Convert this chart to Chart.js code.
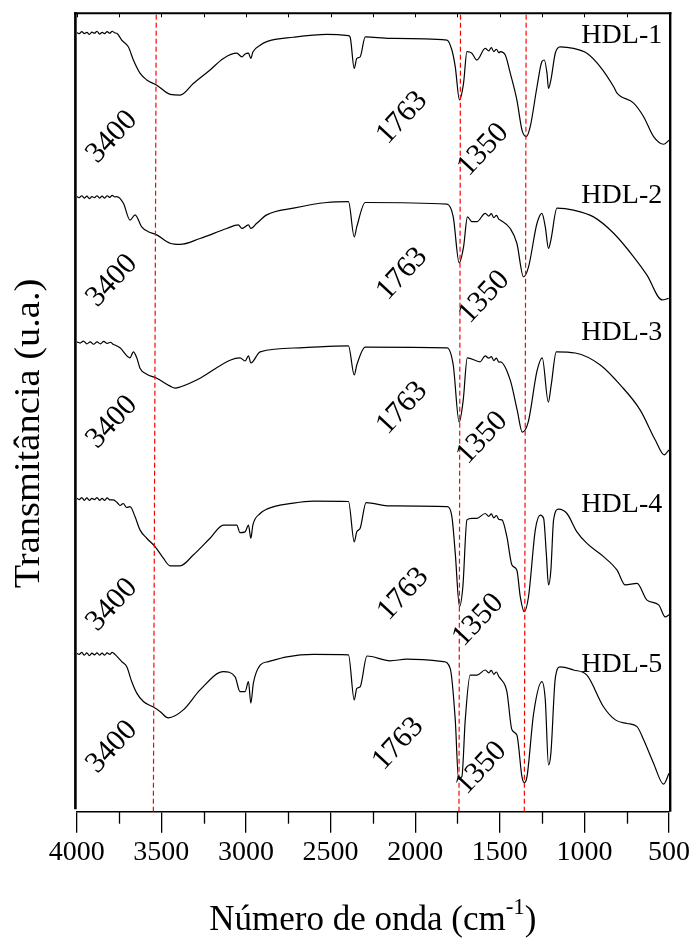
<!DOCTYPE html>
<html><head><meta charset="utf-8">
<script src="https://cdn.jsdelivr.net/npm/chart.js@4.4.0/dist/chart.umd.min.js"></script>
<style>html,body{margin:0;padding:0;background:#fff;}canvas{display:block;}</style>
</head><body>
<canvas id="c" width="699" height="947"></canvas>
<script>
// ---------- DATA ----------
const seriesNames = ['HDL-1','HDL-2','HDL-3','HDL-4','HDL-5'];

const wn1 = [4000,3985,3970,3955,3940,3925,3910,3895,3880,3865,3850,3835,3820,3805,3790,3775,3763,3734,3695,3665,3626,3586,3527,3448,3389,3311,3212,3133,3054,3024,3005,2985,2971,2959,2916,2877,2719,2522,2394,2384,2360,2345,2325,2295,2148,1812,1783,1763,1738,1714,1694,1665,1635,1586,1565,1550,1535,1520,1505,1497,1468,1438,1399,1369,1344,1320,1280,1251,1237,1221,1212,1198,1172,1143,1064,985,906,827,807,709,650,591,532,500];
const t1 = [97.6,97.45,97.7,97.45,97.6,97.35,97.65,97.5,97.75,97.4,97.6,97.45,97.7,97.5,97.75,97.55,97.5,96.65,95.8,94.15,92.5,91.65,91.0,89.85,89.75,91.2,92.9,94.35,95.0,94.55,94.9,95.0,94.35,95.15,96.0,96.45,97.0,97.35,97.2,97.0,93.1,94.35,94.55,97.05,96.85,96.65,95.4,93.3,89.15,91.25,95.2,95.0,94.15,95.6,95.3,95.7,95.2,95.5,95.05,95.2,94.8,92.5,89.15,85.4,84.55,85.8,90.8,93.95,94.15,92.5,90.6,91.65,95.0,95.8,95.6,95.0,93.3,90.8,90.0,88.75,87.05,84.55,83.6,84.1];

const wn2 = [4000,3985,3970,3955,3940,3925,3910,3895,3880,3865,3850,3835,3820,3805,3790,3775,3763,3724,3685,3655,3616,3577,3527,3448,3389,3271,3113,3045,3024,2985,2971,2936,2877,2719,2522,2394,2360,2345,2295,1812,1775,1740,1714,1691,1665,1635,1586,1565,1550,1535,1520,1505,1497,1438,1399,1360,1330,1280,1251,1231,1212,1198,1162,1064,946,827,709,630,541,502];
const t2 = [77.05,76.9,77.15,76.85,77.1,76.8,77.05,76.9,77.15,76.85,77.1,76.85,77.15,76.95,77.2,77.0,77.05,76.2,74.1,74.75,73.25,72.65,72.25,71.2,71.05,71.8,73.05,73.5,73.05,73.5,73.05,73.7,74.75,75.6,76.3,76.4,72.0,73.25,76.3,76.1,74.5,68.75,70.75,74.5,73.9,73.9,74.95,74.6,74.9,74.4,74.7,74.2,74.1,73.05,71.2,67.0,68.25,73.7,74.95,73.25,70.55,71.6,75.6,75.35,74.5,72.45,69.5,67.2,64.1,64.3];

const wn3 = [4000,3980,3960,3940,3920,3900,3880,3860,3840,3820,3800,3785,3774,3744,3685,3665,3645,3626,3586,3527,3448,3419,3389,3271,3094,3035,3005,2985,2971,2916,2680,2394,2360,2345,2295,1811,1775,1740,1716,1692,1616,1586,1565,1550,1535,1520,1505,1497,1438,1397,1367,1332,1279,1249,1213,1196,1166,1054,906,788,670,581,528,500];
const t3 = [58.85,58.7,58.95,58.6,58.85,58.55,58.85,58.6,58.9,58.65,58.8,58.55,58.45,58.1,56.85,57.6,56.85,55.55,54.8,54.3,53.3,53.05,53.2,54.3,56.55,56.85,56.45,57.1,56.2,57.6,58.1,58.35,54.7,55.95,58.2,58.1,55.95,48.8,51.55,56.85,56.35,57.1,56.8,57.0,56.5,56.8,56.3,56.35,54.05,50.3,47.55,48.8,55.3,56.85,51.3,53.45,57.6,57.45,55.95,53.45,50.3,46.55,44.7,45.3];

const wn4 = [4000,3985,3970,3955,3940,3925,3910,3895,3880,3865,3850,3835,3820,3805,3784,3760,3744,3725,3705,3685,3655,3626,3586,3537,3488,3448,3389,3311,3212,3133,3054,3035,3005,2985,2971,2959,2916,2877,2719,2601,2394,2360,2345,2325,2290,2148,1812,1783,1763,1738,1718,1694,1665,1635,1586,1565,1550,1535,1520,1505,1487,1458,1428,1399,1379,1355,1330,1290,1261,1241,1225,1212,1198,1182,1153,1103,1044,985,887,807,758,689,630,561,522,500];
const t4 = [39.25,39.1,39.35,39.0,39.3,39.0,39.25,39.1,39.35,39.0,39.25,39.0,39.3,39.05,39.05,38.7,38.35,38.6,38.1,38.2,36.95,35.3,34.25,33.2,31.75,30.8,30.8,32.15,34.25,35.9,35.9,34.95,35.05,35.9,34.25,35.9,37.35,37.9,38.65,38.9,38.85,33.8,35.05,35.5,38.7,38.3,38.2,36.95,32.35,25.7,28.2,36.55,36.75,36.75,37.35,37.0,37.3,36.8,37.1,36.6,36.55,34.45,30.9,30.25,26.95,25.05,26.95,35.3,37.15,36.75,32.35,28.4,30.25,36.55,37.9,37.35,35.05,33.6,31.95,30.25,28.4,28.6,26.5,25.9,24.4,24.65];

const wn5 = [4000,3985,3970,3955,3940,3925,3910,3895,3880,3865,3850,3835,3820,3805,3790,3774,3734,3704,3675,3645,3606,3547,3508,3458,3370,3271,3133,3064,3035,3005,2985,2971,2956,2916,2867,2758,2601,2394,2360,2345,2325,2285,2148,2049,1833,1793,1763,1744,1724,1704,1675,1635,1586,1565,1550,1535,1520,1505,1497,1458,1428,1399,1369,1355,1339,1300,1251,1231,1212,1198,1172,1143,1064,985,887,817,748,689,650,591,532,500];
const t5 = [19.85,19.7,19.95,19.6,19.9,19.55,19.85,19.65,19.9,19.6,19.85,19.6,19.9,19.7,19.95,19.7,18.8,18.15,16.3,14.85,13.8,13.1,12.55,11.75,12.75,15.25,17.55,16.9,15.05,15.05,16.3,13.6,16.1,18.35,18.8,19.4,19.7,19.65,14.0,15.45,15.65,19.5,18.9,19.1,18.8,17.95,11.5,4.2,4.4,11.5,17.1,17.1,17.75,17.4,17.7,17.2,17.5,16.9,16.7,15.05,10.25,9.6,4.4,3.65,4.4,12.3,16.3,14.0,5.85,7.3,16.7,18.15,17.75,17.1,13.15,11.5,11.05,10.65,9.0,6.05,3.45,4.8];

// red reference lines (wavenumber at top and at bottom of the plot)
const markerTop = [3530, 1732, 1344];
const markerBottom = [3547, 1741, 1355];

// x ticks
const majorTicks = [4000,3500,3000,2500,2000,1500,1000,500];
const tickStep = 250;

// band annotations (wavenumber, transmittance position of label centre)
const bandText = ['3400','1763','1350'];
const band3400X = [3791,3791,3791,3791,3791];
const band3400Y = [84.5,66.5,48.8,25.9,8.1];
const band1763X = [2077,2077,2077,2071,2100];
const band1763Y = [86.9,67.35,50.55,27.25,8.5];
const band1350X = [1598,1592,1604,1627,1610];
const band1350Y = [82.9,64.45,46.8,24.0,5.45];
const nameX = 540;
const nameY = [96.3,76.25,59.1,37.55,17.5];

// ---------- CHART ----------
const FONT = "'Liberation Serif','Times New Roman',Times,serif";
const wns = [wn1,wn2,wn3,wn4,wn5];
const ts = [t1,t2,t3,t4,t5];
const pts = (w,t) => { const n = Math.min(w.length,t.length); const a=[]; for(let i=0;i<n;i++) a.push({x:w[i],y:t[i]}); return a; };

const datasets = [];
for (let i=0;i<3;i++){
  datasets.push({label:'ref'+i, data:[{x:markerBottom[i],y:0},{x:markerTop[i],y:100}],
    borderColor:'#ff0000', borderWidth:1.2, borderDash:[5,3], pointRadius:0, fill:false, tension:0});
}
seriesNames.forEach((n,i)=>{
  datasets.push({label:n, data:pts(wns[i],ts[i]), borderColor:'#000', borderWidth:1.2,
    pointRadius:0, fill:false, cubicInterpolationMode:'monotone'});
});

const decor = {
  id:'decor',
  afterDatasetsDraw(chart){
    const ctx = chart.ctx, xs = chart.scales.x, ys = chart.scales.y;
    ctx.save();
    ctx.fillStyle = '#000';
    ctx.font = '28px ' + FONT;
    ctx.textAlign = 'right'; ctx.textBaseline = 'alphabetic';
    seriesNames.forEach((n,i)=>{ ctx.fillText(n, xs.getPixelForValue(nameX), ys.getPixelForValue(nameY[i])); });
    const groups = [[band3400X,band3400Y],[band1763X,band1763Y],[band1350X,band1350Y]];
    ctx.font = '30px ' + FONT;
    ctx.textAlign = 'center'; ctx.textBaseline = 'middle';
    groups.forEach((g,k)=>{
      for (let i=0;i<g[0].length;i++){
        ctx.save();
        ctx.translate(xs.getPixelForValue(g[0][i]), ys.getPixelForValue(g[1][i]));
        ctx.rotate(-47*Math.PI/180);
        ctx.fillText(bandText[k],0,0);
        ctx.restore();
      }
    });
    ctx.restore();
  },
  afterDraw(chart){
    const ctx = chart.ctx, xs = chart.scales.x;
    const {left,right,top,bottom} = chart.chartArea;
    ctx.save();
    ctx.strokeStyle = '#000';
    ctx.lineWidth = 2;
    ctx.beginPath(); ctx.moveTo(left-2.6, top); ctx.lineTo(right+2.4, top); ctx.stroke();
    ctx.lineWidth = 2.6;
    ctx.beginPath(); ctx.moveTo(left-1.3, top-1); ctx.lineTo(left-1.3, bottom-2.5); ctx.stroke();
    ctx.lineWidth = 2.4;
    ctx.beginPath(); ctx.moveTo(right+1.2, top-1); ctx.lineTo(right+1.2, bottom); ctx.stroke();
    ctx.lineWidth = 1;
    for (let v=500; v<=4000; v+=tickStep){
      const px = Math.round(xs.getPixelForValue(v))+0.5;
      ctx.beginPath(); ctx.moveTo(px, top); ctx.lineTo(px, top+4); ctx.stroke();
      if (v % 500 !== 0){
        ctx.lineWidth = 1.3;
        ctx.beginPath(); ctx.moveTo(px, bottom); ctx.lineTo(px, bottom+12); ctx.stroke();
        ctx.lineWidth = 1;
      }
    }
    ctx.fillStyle = '#000';
    ctx.textBaseline = 'alphabetic'; ctx.textAlign = 'left';
    const main = 'Número de onda (cm', sup = '-1', close = ')';
    ctx.font = '35px ' + FONT; const w1 = ctx.measureText(main).width, w3 = ctx.measureText(close).width;
    ctx.font = '23px ' + FONT; const w2 = ctx.measureText(sup).width;
    let x0 = (left+right)/2 - (w1+w2+w3)/2;
    const base = 930;
    ctx.font = '35px ' + FONT; ctx.fillText(main, x0, base);
    ctx.font = '23px ' + FONT; ctx.fillText(sup, x0+w1, base-16);
    ctx.font = '35px ' + FONT; ctx.fillText(close, x0+w1+w2, base);
    ctx.save();
    ctx.translate(38.5, 433.5);
    ctx.rotate(-Math.PI/2);
    ctx.scale(1.1,1);
    ctx.textAlign = 'center';
    ctx.font = '35px ' + FONT;
    ctx.fillText('Transmitância (u.a.)', 0, 0);
    ctx.restore();
    ctx.restore();
  }
};

new Chart(document.getElementById('c'), {
  type:'line',
  data:{datasets},
  options:{
    responsive:false, animation:false, devicePixelRatio:1,
    layout:{padding:{left:76.7, right:30, top:13.3, bottom:0}},
    plugins:{legend:{display:false}, tooltip:{enabled:false}},
    scales:{
      x:{type:'linear', reverse:true, min:500, max:4000, position:'bottom',
        ticks:{stepSize:tickStep, autoSkip:false, maxRotation:0, color:'#000', padding:3,
          font:{family:FONT, size:28},
          callback:(v)=> majorTicks.includes(v) ? String(v) : ''},
        grid:{drawOnChartArea:false, drawTicks:true, tickLength:21, lineWidth:1.3,
          color:(c)=> (c.tick && c.tick.value % 500 === 0) ? '#000' : 'rgba(0,0,0,0)'},
        border:{display:true, color:'#000', width:1.5},
        afterFit:(scale)=>{ scale.height = 135.3; }
      },
      y:{display:false, min:0, max:100}
    }
  },
  plugins:[decor]
});
</script>
</body></html>
